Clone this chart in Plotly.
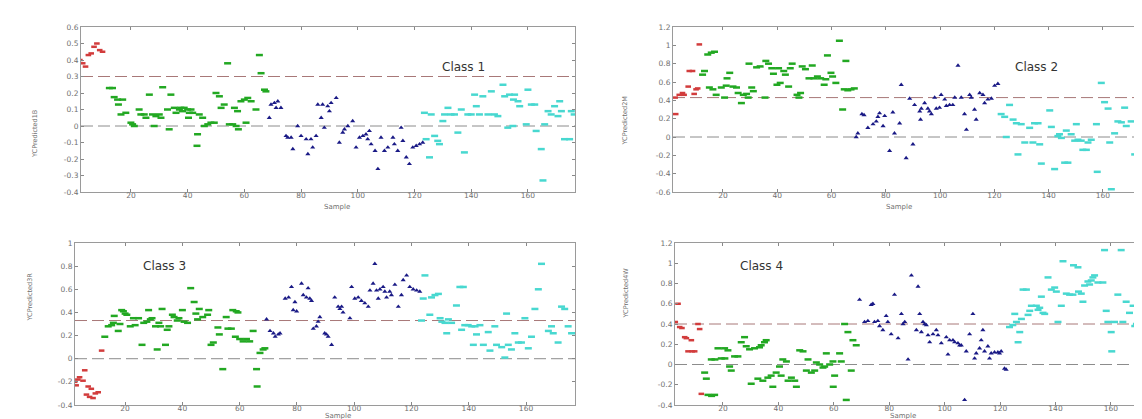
import plotly.graph_objects as go

# ---------------- Panel 1 (Class 1) ----------------
p1_red_x = [2, 3, 4, 5, 6, 7, 8, 9, 10]
p1_red_y = [0.40, 0.38, 0.36, 0.43, 0.44, 0.48, 0.50, 0.46, 0.45]
p1_green_x = [12.4, 13.5, 14.1, 15.3, 15.6, 17.1, 16.5, 18.2, 20, 20.6, 21.2, 22.9, 23.5, 24.7, 25.3, 26.5, 27.6,
              28.8, 28.2, 30, 30.6, 31.2, 32.9, 33.5, 34.1, 35.3, 35.9, 37.1, 37.6, 38.2, 38.8, 40, 40.3, 40.6,
              41.2, 41.8, 43.3, 43.5, 44.1, 45.3, 45.9, 47.1, 48.2, 49.4, 50, 51.2, 51.8, 52.9, 54.1, 54.7, 55.9,
              56.5, 57.1, 57.6, 57.9, 58.8, 60, 60.6, 61.2, 62.4, 64.1, 65.3, 65.9, 67.1, 67.6]
p1_green_y = [0.23, 0.23, 0.175, 0.16, 0.13, 0.16, 0.07, 0.08, 0.02, 0.01, 0.0, 0.10, 0.07, 0.07, 0.05, 0.19, 0.07,
              0.06, 0.0, 0.07, 0.05, 0.235, 0.10, -0.02, 0.19, 0.11, 0.08, 0.10, 0.11, 0.09, 0.11, 0.10, 0.05, 0.08,
              0.10, 0.08, -0.12, -0.05, 0.07, 0.05, 0.0, 0.01, 0.02, 0.02, 0.20, 0.18, 0.11, 0.13, 0.38, 0.01, 0.01,
              0.11, 0.0, 0.09, -0.02, 0.15, 0.16, 0.02, 0.17, 0.15, 0.10, 0.43, 0.32, 0.22, 0.21]
p1_blue_x = [68.8, 69.4, 70.6, 71.2, 71.8, 72.9, 74.7, 75.3, 76.5, 77.1, 78.8, 80, 81.8, 82.4, 83.5, 84.1, 85.3,
             85.9, 87.1, 87.6, 88.2, 89.4, 90, 90.6, 92.4, 93.5, 94.7, 95.3, 96.5, 98.2, 99.4, 100.6, 101.8, 102.9,
             103.5, 104.1, 104.7, 106.1, 107.1, 108.2, 109.4, 110.6, 112.4, 112.9, 114.1, 115.3, 115.9, 117.1,
             118.2, 119.4, 120.6, 121.8, 122.9]
p1_blue_y = [0.05, 0.13, 0.14, 0.11, 0.15, 0.11, -0.06, -0.07, -0.07, -0.14, 0.0, -0.06, -0.08, -0.17, -0.08,
             -0.13, -0.06, 0.13, 0.05, 0.13, -0.01, 0.12, 0.09, 0.14, 0.17, -0.10, -0.04, -0.02, 0.0, 0.03, -0.13,
             -0.07, -0.06, -0.05, -0.08, -0.03, -0.11, -0.15, -0.26, -0.07, -0.15, -0.13, -0.07, -0.11, -0.15,
             -0.01, -0.09, -0.19, -0.23, -0.13, -0.12, -0.11, -0.10]
p1_cyan_x = [123.5, 124.1, 125.3, 125.9, 127.1, 128.2, 128.8, 130, 130.6, 131.8, 132.9, 134.1, 135.3, 136.5, 137.6,
             138.8, 140, 141.2, 141.8, 142.9, 144.1, 145.9, 147.1, 148.2, 149.4, 151.2, 151.8, 152.9, 153.5,
             154.7, 154.9, 155.3, 156.5, 157.1, 159.4, 160, 161.2, 162.4, 162.9, 164.7, 165.3, 165.9, 167.1,
             168.2, 169.4, 170.6, 171.2, 171.8, 172.9, 174.7, 175.3, 176.3]
p1_cyan_y = [0.08, -0.08, -0.19, 0.07, -0.06, -0.09, -0.11, 0.03, 0.07, 0.11, 0.07, 0.07, -0.04, 0.10, -0.16,
             0.07, 0.07, 0.19, 0.12, 0.07, 0.18, 0.07, 0.21, 0.07, 0.06, 0.25, 0.18, -0.01, 0.19, 0.0, 0.16, 0.19,
             0.15, 0.12, 0.01, 0.22, 0.13, 0.13, -0.03, -0.14, -0.33, 0.01, 0.09, 0.07, 0.12, 0.06, 0.15, 0.09,
             -0.08, -0.08, 0.09, 0.07]

# ---------------- Panel 2 (Class 2) ----------------
p2_red_x = [2.4, 2.6, 3.9, 5.1, 5.7, 7.2, 7.6, 8.8, 9.4, 10.1, 10.7, 11.3]
p2_red_y = [0.43, 0.25, 0.46, 0.48, 0.46, 0.55, 0.72, 0.72, 0.47, 0.52, 0.53, 1.01]
p2_green_x = [12.5, 13.2, 14.4, 15, 15.7, 16.3, 16.9, 17.5, 19.4, 20.6, 21.2, 21.5, 22.5, 23.7, 25, 25.6, 26.8,
              27.5, 28.7, 29.3, 29.6, 30.6, 31.2, 32.4, 33.7, 35.5, 35.8, 36.8, 38, 38.6, 39.9, 40.5, 41.1, 42.4,
              43, 44.2, 44.8, 45.5, 47.3, 48, 48.6, 49.2, 50.4, 51.7, 52.9, 53.5, 54.8, 56, 57.3, 57.9, 58.5, 59.8,
              60.4, 61.6, 62.9, 64.1, 64.7, 65.3, 66, 67.2, 68.4]
p2_green_y = [0.68, 0.72, 0.90, 0.54, 0.92, 0.52, 0.93, 0.46, 0.54, 0.43, 0.56, 0.64, 0.70, 0.55, 0.54, 0.48, 0.37,
              0.46, 0.47, 0.43, 0.80, 0.54, 0.50, 0.76, 0.77, 0.43, 0.83, 0.80, 0.75, 0.69, 0.57, 0.75, 0.59, 0.72,
              0.68, 0.55, 0.75, 0.80, 0.46, 0.43, 0.48, 0.77, 0.74, 0.64, 0.78, 0.64, 0.66, 0.64, 0.57, 0.63, 0.89,
              0.70, 0.66, 0.59, 1.05, 0.30, 0.52, 0.83, 0.51, 0.52, 0.53]
p2_blue_x = [69.1, 69.7, 71.2, 72.0, 73.4, 75.3, 76.5, 77.1, 77.7, 79, 79.6, 81.4, 82.6, 83.2, 85.1, 85.7, 87.5,
             88.8, 90, 90.6, 92.5, 92.8, 93.1, 94.3, 95.5, 96.1, 96.8, 98, 98.6, 99.8, 100.4, 101.7, 102.3, 103.5,
             104.7, 105.4, 106.6, 107.8, 109, 109.7, 110.9, 111.5, 112.7, 113.3, 114.6, 115.8, 116.4, 117.6,
             118.9, 120.1, 121.3]
p2_blue_y = [0.0, 0.04, 0.25, 0.24, 0.10, 0.14, 0.17, 0.22, 0.26, 0.12, 0.23, -0.15, 0.27, 0.04, 0.15, 0.57, -0.23,
             0.42, -0.08, 0.35, 0.28, 0.19, 0.31, 0.37, 0.31, 0.28, 0.25, 0.43, 0.31, 0.32, 0.46, 0.41, 0.34, 0.35,
             0.35, 0.43, 0.78, 0.43, 0.25, 0.08, 0.46, 0.43, 0.30, 0.19, 0.48, 0.46, 0.37, 0.41, 0.42, 0.56, 0.58]
p2_cyan_x = [122.5, 123.8, 124.4, 125.6, 126.9, 128.1, 128.7, 129.9, 131.2, 133, 134.2, 134.8, 136.1, 136.7, 137.3,
             140.4, 141, 142.2, 143.4, 144, 144.7, 145.9, 146.5, 147.1, 148.3, 149.6, 150.2, 150.8, 152, 152.6,
             153.9, 154.5, 155.7, 157.6, 157.9, 159.4, 160.6, 161.9, 162.5, 163.1, 164.3, 165.5, 166.8, 168,
             168.6, 170.4, 171.7, 172.9, 173.2, 174.1, 174.8]
p2_cyan_y = [0.25, 0.22, 0.0, 0.35, 0.19, 0.15, -0.19, 0.14, -0.06, 0.10, -0.06, 0.15, 0.15, -0.08, -0.29, 0.29,
             0.11, -0.35, 0.01, 0.03, -0.01, -0.28, 0.07, -0.28, 0.03, -0.04, 0.14, -0.03, -0.04, -0.14, -0.14,
             -0.06, -0.03, 0.14, -0.38, 0.59, 0.38, 0.31, -0.06, -0.57, 0.04, 0.17, 0.16, 0.32, 0.12, 0.17, -0.19,
             0.17, -0.43, 0.19, 0.12]

# ---------------- Panel 3 (Class 3) ----------------
p3_red_x = [2.4, 2.9, 3.5, 4.1, 5.3, 5.9, 6.5, 7.1, 7.6, 8.2, 8.8, 9.6, 10.6, 11.8]
p3_red_y = [-0.20, -0.23, -0.18, -0.16, -0.19, -0.10, -0.31, -0.24, -0.33, -0.26, -0.34, -0.30, -0.29, 0.07]
p3_green_x = [12.9, 14.1, 15.3, 15.9, 16.2, 17.6, 18.2, 18.8, 19.4, 20, 20.6, 21.8, 22.9, 23.5, 24.7, 25.9, 26.5,
              27.6, 28.2, 28.8, 29.4, 30.6, 31.2, 31.8, 32.4, 32.9, 34.1, 34.7, 35.3, 36.5, 37.1, 38.2, 38.8, 40,
              40.6, 41.8, 42.9, 44.1, 44.7, 45.3, 45.9, 47.1, 48.8, 49.2, 50, 50.8, 52.4, 52.9, 54.1, 55.3, 55.9,
              57.1, 57.6, 58.8, 59.4, 58.5, 60, 61.2, 62.4, 63.5, 64.7, 65.9, 66.1, 67.1, 68.2, 68.8]
p3_green_y = [0.19, 0.28, 0.29, 0.31, 0.37, 0.24, 0.30, 0.42, 0.41, 0.39, 0.38, 0.28, 0.35, 0.29, 0.35, 0.12, 0.31,
              0.32, 0.42, 0.34, 0.35, 0.28, 0.08, 0.31, 0.28, 0.43, 0.12, 0.25, 0.28, 0.38, 0.36, 0.33, 0.35, 0.42,
              0.32, 0.31, 0.61, 0.49, 0.39, 0.34, 0.43, 0.36, 0.38, 0.42, 0.12, 0.14, 0.27, 0.21, -0.09, 0.36, 0.26,
              0.26, 0.42, 0.41, 0.40, 0.19, 0.17, 0.15, 0.17, 0.15, 0.24, -0.09, -0.24, 0.05, 0.08, 0.09]
p3_blue_x = [69.4, 70.6, 71.8, 72.4, 73.5, 74.1, 75.9, 77.1, 78.1, 78.7, 79.3, 79.9, 81.6, 82.2, 83.3, 83.9, 84.5,
             85.1, 85.7, 86.8, 87.4, 88, 89.7, 90.3, 90.9, 92.1, 93.2, 94.4, 95, 95.6, 96.1, 98.5, 99.1, 100.2,
             101.4, 102.5, 103.7, 104.9, 105.5, 106.6, 107.2, 107.8, 108.4, 109, 110.1, 110.7, 111.3, 112.4, 113,
             114.2, 115.4, 116.5, 117.1, 118.3, 119.4, 120.6, 121.8, 122.9]
p3_blue_y = [0.34, 0.24, 0.22, 0.19, 0.21, 0.22, 0.52, 0.53, 0.62, 0.42, 0.49, 0.41, 0.65, 0.55, 0.53, 0.61, 0.52,
             0.50, 0.26, 0.28, 0.32, 0.36, 0.22, 0.21, 0.19, 0.12, 0.53, 0.45, 0.43, 0.45, 0.40, 0.35, 0.62, 0.52,
             0.53, 0.50, 0.48, 0.45, 0.59, 0.65, 0.82, 0.59, 0.52, 0.60, 0.62, 0.58, 0.53, 0.58, 0.55, 0.64, 0.45,
             0.55, 0.68, 0.72, 0.62, 0.60, 0.59, 0.58]
p3_cyan_x = [123.5, 124.1, 124.7, 126.4, 127, 128.2, 129.4, 130, 130.6, 131.7, 132.3, 132.9, 134, 135.7, 136.9,
             137.5, 138.1, 138.6, 139.8, 141, 141.6, 142.2, 142.7, 143.9, 145.1, 146.8, 147.4, 149.1, 149.7, 151.5,
             152.6, 153.2, 153.8, 154.9, 156.1, 157.3, 158.4, 159.6, 160.8, 161.9, 163.1, 164.3, 165.4, 167.8,
             168.9, 169.5, 171.2, 172.4, 173.5, 174.7, 175.9]
p3_cyan_y = [0.33, 0.52, 0.72, 0.38, 0.53, 0.55, 0.56, 0.35, 0.32, 0.31, 0.22, 0.34, 0.31, 0.46, 0.62, 0.25, 0.62,
             0.29, 0.29, 0.28, 0.12, 0.28, 0.21, 0.29, 0.12, 0.23, 0.07, 0.28, 0.12, 0.10, 0.01, 0.39, 0.12, 0.08,
             0.22, 0.14, 0.14, 0.35, 0.09, 0.19, 0.43, 0.60, 0.82, 0.24, 0.28, 0.22, 0.14, 0.45, 0.43, 0.28, 0.22]

# ---------------- Panel 4 (Class 4) ----------------
p4_red_x = [2.8, 3.8, 4.4, 5.2, 6.2, 6.8, 7.4, 8.6, 8.9, 9.8, 11, 11.6, 12.2]
p4_red_y = [0.42, 0.60, 0.37, 0.36, 0.27, 0.26, 0.13, 0.24, 0.13, 0.13, 0.40, 0.35, -0.29]
p4_green_x = [13.4, 14, 14.6, 15.8, 15.9, 17, 17.1, 18.2, 19.4, 20.6, 20.7, 21.8, 22.4, 23, 24.2, 25.4, 26.6, 27.8,
              28.4, 29.6, 30.2, 31.4, 32.6, 33.2, 33.8, 34.4, 35, 35.6, 36.2, 37.4, 38, 39.2, 40.4, 41, 41.6, 42.9,
              43.5, 44.7, 45.9, 46.5, 47.7, 48.9, 50.1, 50.7, 51.9, 53.1, 53.7, 54.9, 56.1, 56.7, 57.3, 58.5, 59.7,
              59.8, 60.3, 62.1, 62.7, 63.9, 64.5, 65.1, 66.3, 66.9, 68.1]
p4_green_y = [-0.08, -0.14, -0.30, 0.05, -0.31, -0.30, 0.05, 0.16, 0.06, 0.16, 0.06, 0.14, -0.02, -0.06, 0.08, 0.08,
              0.22, 0.27, 0.18, 0.15, -0.19, 0.16, -0.14, 0.17, 0.19, -0.16, 0.22, 0.24, -0.13, -0.11, -0.22, -0.08,
              -0.02, -0.11, 0.05, 0.03, -0.16, -0.13, -0.16, -0.22, 0.14, 0.13, -0.06, 0.05, -0.08, -0.06, 0.02,
              0.0, -0.03, -0.02, 0.11, 0.0, 0.03, -0.22, -0.11, 0.11, 0.03, 0.40, -0.35, 0.32, -0.06, 0.24, 0.19]
p4_blue_x = [69.3, 71.1, 72.3, 73.5, 74.1, 74.7, 75.9, 76.5, 77.7, 78.9, 79.5, 80.7, 81.9, 83.2, 84.4, 85, 85.6,
             86.8, 88, 89.8, 90.4, 91, 91.6, 92.2, 92.8, 93.4, 94, 94.6, 95.8, 97, 97.6, 98.8, 100.6, 101.2, 101.8,
             103, 103.6, 104.8, 105.4, 106, 107.2, 107.8, 109, 110.2, 110.8, 111.4, 112.6, 113.2, 113.8, 114.4,
             115.6, 116.2, 116.8, 118, 119.2, 119.8, 120.4, 121.6, 122.2]
p4_blue_y = [0.64, 0.42, 0.43, 0.59, 0.60, 0.42, 0.43, 0.38, 0.34, 0.48, 0.42, 0.30, 0.69, 0.26, 0.50, 0.40, 0.42,
             0.05, 0.88, 0.34, 0.77, 0.50, 0.32, 0.42, 0.40, 0.39, 0.29, 0.22, 0.30, 0.34, 0.29, 0.21, 0.27, 0.10,
             0.24, 0.24, 0.22, 0.21, 0.19, 0.19, -0.35, 0.13, 0.30, 0.50, 0.06, 0.11, 0.16, 0.24, 0.34, 0.13, 0.18,
             0.06, 0.11, 0.12, 0.12, 0.11, 0.13, -0.04, -0.05]
p4_cyan_x = [123.4, 124.6, 125.3, 125.9, 126.5, 127.1, 127.7, 128.3, 129.5, 130.1, 130.7, 131.3, 133.1, 133.7, 134.3,
             134.9, 135.5, 136.1, 137.3, 138.5, 139.7, 140.3, 140.9, 142.1, 142.7, 143.9, 145.1, 146.3, 146.5,
             148.1, 148.3, 149.3, 149.9, 150.5, 151.7, 152.3, 152.9, 153.5, 154.1, 155.3, 157.1, 157.7, 158.3,
             158.9, 160.1, 160.3, 161.3, 162.5, 163.7, 164.3, 165.5, 166.7, 168, 168.6, 169.2, 169.8, 170.4, 170.6,
             172.2, 173.4]
p4_cyan_y = [0.37, 0.39, 0.50, 0.42, 0.22, 0.32, 0.45, 0.74, 0.74, 0.49, 0.53, 0.58, 0.58, 0.54, 0.56, 0.67, 0.51,
             0.50, 0.86, 0.74, 0.76, 0.72, 0.42, 0.58, 1.02, 0.70, 0.69, 0.69, 0.98, 0.96, 0.72, 0.70, 0.62, 0.78,
             0.82, 0.79, 0.83, 0.86, 0.88, 0.81, 0.81, 1.13, 0.53, 0.42, 0.32, 0.13, 0.42, 0.69, 1.13, 0.42, 0.62,
             0.51, 0.58, 0.38, 0.40, 0.54, 0.70, 1.07, 0.85, 0.83]

# ---------------- Axes definitions ----------------
class_labels = ["Class 1", "Class 2", "Class 3", "Class 4"]
y_titles = ["YCPredicted1B", "YCPredicted2M", "YCPredicted3R", "YCPredicted4W"]
thresholds = [0.30, 0.43, 0.33, 0.40]
x_ticks = [20, 40, 60, 80, 100, 120, 140, 160]
y_ticks = [
    [0.6, 0.5, 0.4, 0.3, 0.2, 0.1, 0, -0.1, -0.2, -0.3, -0.4],
    [1.2, 1, 0.8, 0.6, 0.4, 0.2, 0, -0.2, -0.4, -0.6],
    [1, 0.8, 0.6, 0.4, 0.2, 0, -0.2, -0.4],
    [1.2, 1, 0.8, 0.6, 0.4, 0.2, 0, -0.2, -0.4],
]
y_tick_text = [
    ["0.6", "0.5", "0.4", "0.3", "0.2", "0.1", "0", "-0.1", "-0.2", "-0.3", "-0.4"],
    ["1.2", "1", "0.8", "0.6", "0.4", "0.2", "0", "-0.2", "-0.4", "-0.6"],
    ["1", "0.8", "0.6", "0.4", "0.2", "0", "-0.2", "-0.4"],
    ["1.2", "1", "0.8", "0.6", "0.4", "0.2", "0", "-0.2", "-0.4"],
]
y_ranges = [[-0.4, 0.6], [-0.6, 1.2], [-0.4, 1.0], [-0.4, 1.2]]
x_ranges = [[2.4, 176.6], [1.6, 175.5], [2.5, 177.1], [2.7, 174.1]]

W, H = 1142, 419
# pixel boxes of each plotting area: (left, right, top, bottom)
boxes = [(73, 567, 19, 184), (665, 1137, 19, 184), (67, 567, 235, 397), (667, 1142, 235, 397)]

panels = [
    (p1_red_x, p1_red_y, p1_green_x, p1_green_y, p1_blue_x, p1_blue_y, p1_cyan_x, p1_cyan_y),
    (p2_red_x, p2_red_y, p2_green_x, p2_green_y, p2_blue_x, p2_blue_y, p2_cyan_x, p2_cyan_y),
    (p3_red_x, p3_red_y, p3_green_x, p3_green_y, p3_blue_x, p3_blue_y, p3_cyan_x, p3_cyan_y),
    (p4_red_x, p4_red_y, p4_green_x, p4_green_y, p4_blue_x, p4_blue_y, p4_cyan_x, p4_cyan_y),
]

RED, GREEN, BLUE, CYAN = "#d23c3c", "#22a822", "#1a1a86", "#48d8d0"

fig = go.Figure()
layout = dict(
    width=W, height=H, margin=dict(l=0, r=0, t=0, b=0),
    paper_bgcolor="white", plot_bgcolor="white", showlegend=False,
    annotations=[], shapes=[],
)

tick_font = dict(family="DejaVu Sans", size=7.5, color="#707070")

for i, (rx, ry, gx, gy, bx, by, cx, cy) in enumerate(panels):
    n = i + 1
    xa = "x" if n == 1 else f"x{n}"
    ya = "y" if n == 1 else f"y{n}"
    l, r, t, b = boxes[i]
    layout[f"xaxis{'' if n == 1 else n}"] = dict(
        domain=[l / W, r / W], range=x_ranges[i], anchor=ya,
        tickvals=x_ticks, ticks="inside", ticklen=3, tickcolor="#888",
        showline=True, linecolor="#9a9a9a", linewidth=1, mirror="ticks",
        showgrid=False, zeroline=False, tickfont=tick_font, automargin=False,
        ticklabelstandoff=-4,
    )
    layout[f"yaxis{'' if n == 1 else n}"] = dict(
        domain=[1 - b / H, 1 - t / H], range=y_ranges[i], anchor=xa,
        tickvals=y_ticks[i], ticktext=y_tick_text[i], ticks="inside", ticklen=3, tickcolor="#888",
        showline=True, linecolor="#9a9a9a", linewidth=1, mirror="ticks",
        showgrid=False, zeroline=False, tickfont=tick_font, automargin=False,
    )
    # dashed reference lines
    for yv, col in ((thresholds[i], "#a87878"), (0, "#8c8c8c")):
        layout["shapes"].append(dict(type="line", xref=f"{xa} domain", yref=ya, x0=0, x1=1, y0=yv, y1=yv,
                                     line=dict(color=col, width=1, dash="12px,5px"), layer="below"))
    # point groups
    fig.add_trace(go.Scatter(x=rx, y=ry, mode="markers", xaxis=xa, yaxis=ya,
                             marker=dict(symbol="line-ew", size=4, line=dict(width=2.5, color=RED))))
    fig.add_trace(go.Scatter(x=gx, y=gy, mode="markers", xaxis=xa, yaxis=ya,
                             marker=dict(symbol="line-ew", size=5, line=dict(width=2.5, color=GREEN))))
    fig.add_trace(go.Scatter(x=bx, y=by, mode="markers", xaxis=xa, yaxis=ya,
                             marker=dict(symbol="triangle-up", size=4.5, color=BLUE, line=dict(width=0))))
    fig.add_trace(go.Scatter(x=cx, y=cy, mode="markers", xaxis=xa, yaxis=ya,
                             marker=dict(symbol="line-ew", size=5, line=dict(width=2.5, color=CYAN))))

# Class labels (pixel positions converted to paper coords)
class_pos = [(455, 50), (1052, 50), (133, 258), (753, 258)]
for (px, py), txt in zip(class_pos, class_labels):
    layout["annotations"].append(dict(text=txt, x=px / W, y=1 - py / H, xref="paper", yref="paper",
                                      showarrow=False, font=dict(family="DejaVu Sans", size=12, color="#333")))
# x-axis titles
sample_pos = [(315, 199), (905, 199), (316, 413), (909, 413)]
for px, py in sample_pos:
    layout["annotations"].append(dict(text="Sample", x=px / W, y=1 - py / H, xref="paper", yref="paper",
                                      showarrow=False, borderpad=0,
                                      font=dict(family="DejaVu Sans", size=7, color="#707070")))
# y-axis titles
ytitle_pos = [(21, 100), (617, 87), (15, 316), (617, 313)]
for (px, py), txt in zip(ytitle_pos, y_titles):
    layout["annotations"].append(dict(text=txt, x=px / W, y=1 - py / H, xref="paper", yref="paper",
                                      showarrow=False, textangle=-90,
                                      font=dict(family="DejaVu Sans", size=6.5, color="#707070")))

fig.update_layout(**layout)
fig.write_html("out.html")
